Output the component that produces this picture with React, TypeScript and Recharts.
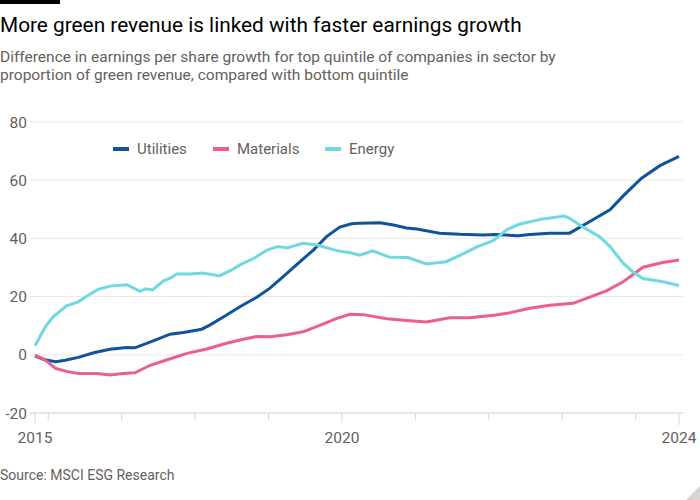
import { LineChart, Line, XAxis, YAxis, CartesianGrid, Legend } from 'recharts'

// [decimal year, EPS growth difference]
const utilities: [number, number][] = [
  [2015.82, -0.4], [2015.94, -1.6], [2016.1, -2.4], [2016.23, -1.9], [2016.41, -0.9],
  [2016.62, 0.7], [2016.84, 1.9], [2017.07, 2.5], [2017.18, 2.4], [2017.43, 4.8],
  [2017.66, 7.1], [2017.84, 7.7], [2018.09, 8.8], [2018.2, 10.2], [2018.39, 13.1],
  [2018.61, 16.5], [2018.84, 19.8], [2019.02, 22.9], [2019.2, 26.9], [2019.38, 30.9],
  [2019.61, 36.0], [2019.79, 40.6], [2019.97, 43.9], [2020.13, 45.0], [2020.24, 45.2],
  [2020.52, 45.4], [2020.7, 44.6], [2020.88, 43.6], [2021.02, 43.2], [2021.33, 41.8],
  [2021.61, 41.4], [2021.92, 41.2], [2022.1, 41.3], [2022.4, 40.9], [2022.56, 41.3],
  [2022.83, 41.8], [2023.1, 41.8], [2023.37, 45.7], [2023.65, 49.8], [2023.83, 54.6],
  [2024.08, 60.7], [2024.33, 65.0], [2024.59, 68.2],
]

const materials: [number, number][] = [
  [2015.82, -0.1], [2015.96, -1.8], [2016.1, -4.7], [2016.25, -5.7], [2016.41, -6.4],
  [2016.66, -6.4], [2016.84, -6.9], [2017.02, -6.4], [2017.18, -6.2], [2017.39, -3.6],
  [2017.61, -1.8], [2017.89, 0.5], [2018.16, 2.0], [2018.39, 3.7], [2018.61, 5.1],
  [2018.84, 6.3], [2019.02, 6.2], [2019.25, 6.9], [2019.47, 7.9], [2019.75, 10.6],
  [2019.93, 12.5], [2020.11, 13.9], [2020.29, 13.8], [2020.61, 12.4], [2020.88, 11.8],
  [2021.15, 11.3], [2021.47, 12.7], [2021.74, 12.7], [2022.1, 13.7], [2022.29, 14.5],
  [2022.56, 16.0], [2022.83, 17.0], [2023.15, 17.7], [2023.33, 19.4], [2023.6, 22.0],
  [2023.83, 25.1], [2024.1, 30.1], [2024.37, 31.7], [2024.59, 32.6],
]

const energy: [number, number][] = [
  [2015.82, 3.1], [2015.96, 9.6], [2016.07, 13.1], [2016.25, 16.8], [2016.41, 18.2],
  [2016.53, 20.2], [2016.68, 22.5], [2016.84, 23.6], [2017.07, 24.1], [2017.25, 21.8],
  [2017.33, 22.7], [2017.42, 22.3], [2017.57, 25.4], [2017.66, 26.3], [2017.75, 27.8],
  [2017.93, 27.8], [2018.11, 28.1], [2018.33, 27.1], [2018.48, 28.9], [2018.61, 30.9],
  [2018.79, 33.0], [2018.98, 36.0], [2019.13, 37.2], [2019.25, 36.7], [2019.47, 38.3],
  [2019.66, 37.7], [2019.93, 35.8], [2020.11, 35.1], [2020.24, 34.2], [2020.42, 35.7],
  [2020.65, 33.5], [2020.9, 33.4], [2021.15, 31.2], [2021.42, 32.0], [2021.65, 34.7],
  [2021.83, 37.0], [2022.06, 39.2], [2022.24, 42.9], [2022.4, 44.7], [2022.47, 45.2],
  [2022.74, 46.7], [2023.03, 47.7], [2023.1, 46.9], [2023.28, 43.9], [2023.51, 40.6],
  [2023.65, 37.2], [2023.83, 31.5], [2023.96, 28.5], [2024.1, 26.2], [2024.37, 25.1],
  [2024.59, 23.8],
]

const xStart = 2015.82
const xEnd = 2024.59
const xTicks = [xStart, 2016, 2017, 2018, 2019, 2020, 2021, 2022, 2023, 2024, xEnd]
const xLabels: Record<string, string> = { [xStart]: '2015', 2020: '2020', [xEnd]: '2024' }
const yTicks = [-20, 0, 20, 40, 60, 80]

const seriesNames = ['Utilities', 'Materials', 'Energy']
const seriesColors = ['#0f5499', '#eb5e8d', '#6fd9de']

const FONT = 'Roboto, "Noto Sans", sans-serif'
const GREY = '#66605c'

const toRows = (pts: [number, number][]) => pts.map(([year, value]) => ({ year, value }))

const XTick = ({ x, y, payload }: any) => {
  const label = xLabels[payload.value]
  const len = payload.value === xEnd ? 12 : label ? 10 : 7
  return (
    <g>
      <line x1={x} x2={x} y1={y} y2={y + len} stroke="#d9d5d2" strokeWidth={1} />
      {label && (
        <text x={x} y={y + 30} textAnchor="middle" fill={GREY} fontSize={15.5} fontFamily={FONT}>
          {label}
        </text>
      )}
    </g>
  )
}

const LegendContent = () => {
  const rowStyle: React.CSSProperties = {
    display: 'flex',
    alignItems: 'center',
    fontFamily: FONT,
    fontSize: '15px',
    color: GREY,
  }
  const itemWidths = ['100px', '112px', '90px']
  return (
    <div style={rowStyle}>
      {seriesNames.map((name, i) => (
        <div key={name} style={{ display: 'flex', alignItems: 'center', width: itemWidths[i] }}>
          <span style={{ width: '16px', height: '4px', background: seriesColors[i], marginRight: '8px' }} />
          <span>{name}</span>
        </div>
      ))}
    </div>
  )
}

const App = () => {
  const pageStyle: React.CSSProperties = {
    position: 'fixed',
    top: 0,
    left: 0,
    width: '700px',
    height: '500px',
    background: '#ffffff',
    overflow: 'hidden',
    fontFamily: FONT,
  }

  const titleStyle: React.CSSProperties = {
    position: 'absolute',
    left: 0,
    top: '13px',
    fontSize: '20.8px',
    lineHeight: '24px',
    color: '#000000',
    whiteSpace: 'nowrap',
  }

  const subtitleStyle: React.CSSProperties = {
    position: 'absolute',
    left: 0,
    top: '48px',
    fontSize: '15.5px',
    lineHeight: '18px',
    color: GREY,
    whiteSpace: 'nowrap',
  }

  const sourceStyle: React.CSSProperties = {
    position: 'absolute',
    left: 0,
    top: '465px',
    fontSize: '14px',
    lineHeight: '20px',
    color: GREY,
  }

  return (
    <div style={pageStyle}>
      <div style={{ position: 'absolute', left: 0, top: 0, width: '60px', height: '4px', background: '#000' }} />
      <div style={titleStyle}>More green revenue is linked with faster earnings growth</div>
      <div style={subtitleStyle}>
        Difference in earnings per share growth for top quintile of companies in sector by
        <br />
        proportion of green revenue, compared with bottom quintile
      </div>

      <div style={{ position: 'absolute', left: 0, top: 0 }}>
        <LineChart width={700} height={500} margin={{ top: 122, right: 17, bottom: 57, left: 0 }}>
          <CartesianGrid vertical={false} stroke="#ebe7e4" />
          <XAxis
            dataKey="year"
            type="number"
            domain={[xStart, xEnd]}
            ticks={xTicks}
            interval={0}
            padding={{ left: 5, right: 4 }}
            height={30}
            tickSize={0}
            tickMargin={0}
            tickLine={false}
            axisLine={{ stroke: '#d9d5d2' }}
            tick={<XTick />}
          />
          <YAxis
            type="number"
            domain={[-20, 80]}
            ticks={yTicks}
            width={30}
            axisLine={false}
            tickLine={false}
            tickSize={0}
            tickMargin={3}
            tick={{ fill: GREY, fontSize: 15.5, fontFamily: FONT }}
          />
          <Legend
            layout="horizontal"
            verticalAlign="middle"
            align="center"
            content={<LegendContent />}
            wrapperStyle={{ top: 140, left: 113, width: 320, height: 20 }}
          />
          <Line data={toRows(utilities)} dataKey="value" name="Utilities" stroke={seriesColors[0]} strokeWidth={3} dot={false} isAnimationActive={false} />
          <Line data={toRows(materials)} dataKey="value" name="Materials" stroke={seriesColors[1]} strokeWidth={3} dot={false} isAnimationActive={false} />
          <Line data={toRows(energy)} dataKey="value" name="Energy" stroke={seriesColors[2]} strokeWidth={3} dot={false} isAnimationActive={false} />
        </LineChart>
      </div>

      <div style={sourceStyle}>Source: MSCI ESG Research</div>
      <svg width={14} height={14} style={{ position: 'absolute', right: 0, bottom: 0 }}>
        <polygon points="14,0 14,14 0,14" fill="#d9d4d2" />
      </svg>
    </div>
  )
}

export default App
